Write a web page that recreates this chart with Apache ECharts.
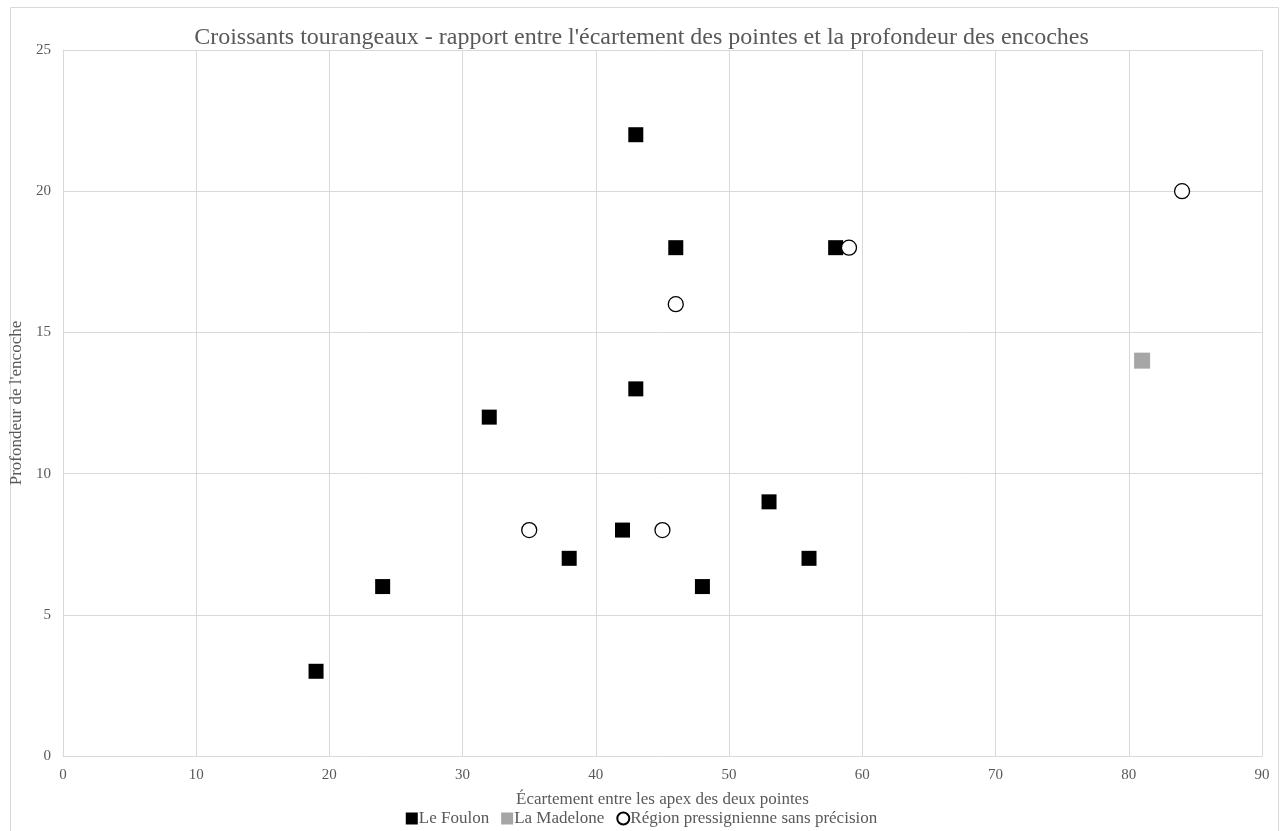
<!DOCTYPE html>
<html><head><meta charset="utf-8">
<script src="https://cdn.jsdelivr.net/npm/echarts@6/dist/echarts.min.js"></script>
<style>html,body{margin:0;padding:0;background:#fff}#c{width:1283px;height:831px}</style>
</head><body><div id="c"></div>
<script>
const foulonX = [19, 24, 32, 38, 42, 43, 43, 46, 48, 53, 56, 58];
const foulonY = [3, 6, 12, 7, 8, 13, 22, 18, 6, 9, 7, 18];
const madeloneX = [81];
const madeloneY = [14];
const regionX = [35, 45, 46, 59, 84];
const regionY = [8, 8, 16, 18, 20];
const zip = (a, b) => a.map((v, i) => [v, b[i]]);
const font = '"Liberation Serif","Times New Roman",serif';
const chart = echarts.init(document.getElementById('c'));
chart.setOption({
  animation: false,
  textStyle: {fontFamily: font},
  graphic: [{type: 'rect', shape: {x: 10.5, y: 7.5, width: 1268, height: 830}, style: {fill: 'none', stroke: '#d9d9d9', lineWidth: 1}}],
  title: {text: "Croissants tourangeaux - rapport entre l'écartement des pointes et la profondeur des encoches",
    left: 'center', top: 21, textStyle: {fontFamily: font, fontSize: 24, fontWeight: 'normal', color: '#595959'}},
  grid: {left: 62, right: 21, top: 50, bottom: 75},
  xAxis: {type: 'value', min: 0, max: 90, interval: 10,
    name: 'Écartement entre les apex des deux pointes', nameLocation: 'middle', nameGap: 35,
    nameTextStyle: {fontFamily: font, fontSize: 17, color: '#595959'},
    axisLine: {lineStyle: {color: '#d9d9d9'}}, axisTick: {show: false},
    axisLabel: {fontFamily: font, fontSize: 15, color: '#595959', margin: 12},
    splitLine: {lineStyle: {color: '#d9d9d9'}}},
  yAxis: {type: 'value', min: 0, max: 25, interval: 5,
    name: "Profondeur de l'encoche", nameLocation: 'middle', nameGap: 33,
    nameTextStyle: {fontFamily: font, fontSize: 17, color: '#595959'},
    axisLine: {show: true, lineStyle: {color: '#d9d9d9'}}, axisTick: {show: false},
    axisLabel: {fontFamily: font, fontSize: 15, color: '#595959', margin: 12},
    splitLine: {lineStyle: {color: '#d9d9d9'}}},
  legend: {bottom: -1, left: 'center', itemWidth: 12, itemHeight: 12, itemGap: 12,
    textStyle: {fontFamily: font, fontSize: 17, color: '#595959', padding: [0,0,0,-4]},
    data: [
      {name: 'Le Foulon', icon: 'rect'},
      {name: 'La Madelone', icon: 'rect'},
      {name: 'Région pressignienne sans précision', icon: 'circle'}]},
  series: [
    {name: 'Le Foulon', type: 'scatter', symbol: 'rect', symbolSize: 15,
      itemStyle: {color: '#000', opacity: 1}, data: zip(foulonX, foulonY)},
    {name: 'La Madelone', type: 'scatter', symbol: 'rect', symbolSize: 16,
      itemStyle: {color: '#a6a6a6', opacity: 1}, data: zip(madeloneX, madeloneY)},
    {name: 'Région pressignienne sans précision', type: 'scatter', symbol: 'circle', symbolSize: 15,
      itemStyle: {color: '#fff', borderColor: '#000', borderWidth: 1.3, opacity: 1}, data: zip(regionX, regionY)}
  ]
});
</script></body></html>
